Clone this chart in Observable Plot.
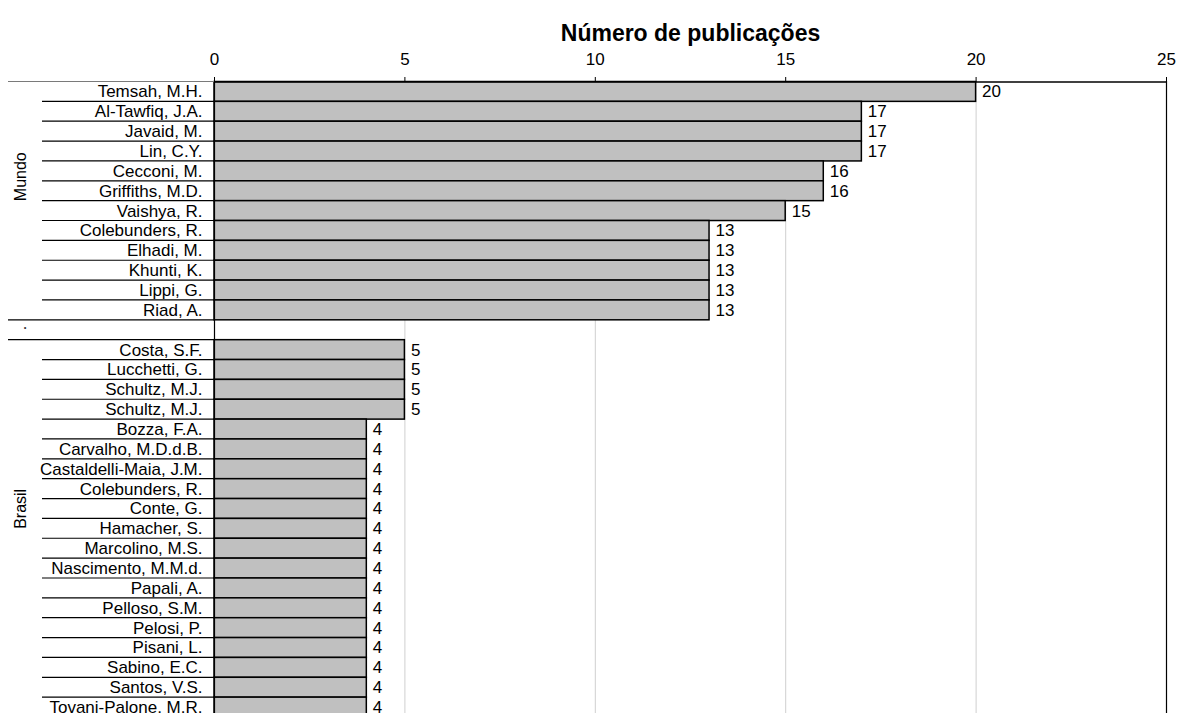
<!DOCTYPE html>
<html><head><meta charset="utf-8">
<script src="https://cdn.jsdelivr.net/npm/d3@7"></script>
<script src="https://cdn.jsdelivr.net/npm/@observablehq/plot@0.6"></script>
<style>body{margin:0;background:#fff}</style>
</head><body><div id="chart"></div>
<script>
const groupNames = ["Mundo", ".", "Brasil"];
const mundoAuthors = ["Temsah, M.H.", "Al-Tawfiq, J.A.", "Javaid, M.", "Lin, C.Y.", "Cecconi, M.", "Griffiths, M.D.", "Vaishya, R.", "Colebunders, R.", "Elhadi, M.", "Khunti, K.", "Lippi, G.", "Riad, A."];
const mundoCounts = [20, 17, 17, 17, 16, 16, 15, 13, 13, 13, 13, 13];
const spacerAuthors = [""];
const spacerCounts = [null];
const brasilAuthors = ["Costa, S.F.", "Lucchetti, G.", "Schultz, M.J.", "Schultz, M.J.", "Bozza, F.A.", "Carvalho, M.D.d.B.", "Castaldelli-Maia, J.M.", "Colebunders, R.", "Conte, G.", "Hamacher, S.", "Marcolino, M.S.", "Nascimento, M.M.d.", "Papali, A.", "Pelloso, S.M.", "Pelosi, P.", "Pisani, L.", "Sabino, E.C.", "Santos, V.S.", "Tovani-Palone, M.R."];
const brasilCounts = [5, 5, 5, 5, 4, 4, 4, 4, 4, 4, 4, 4, 4, 4, 4, 4, 4, 4, 4];
const xTicks = [0, 5, 10, 15, 20, 25];
const xTitle = "Número de publicações";

const groupSeries = [[mundoAuthors, mundoCounts], [spacerAuthors, spacerCounts], [brasilAuthors, brasilCounts]];
const rows = [];
const groups = [];
groupSeries.forEach(([authors, counts], g) => {
  const start = rows.length;
  authors.forEach((a, k) => rows.push({group: groupNames[g], author: a, count: counts[k], i: rows.length}));
  groups.push({name: groupNames[g], start, end: rows.length});
});
const nRows = rows.length;
const innerBounds = groups.flatMap(g => d3.range(g.start + 1, g.end));
const groupBounds = groups.map(g => g.start).concat([nRows]);

const plot = Plot.plot({
  width: 1178, height: 713,
  marginTop: 81, marginRight: 12, marginBottom: 0, marginLeft: 214,
  style: {fontFamily: "'Liberation Sans', Arial, sans-serif", fontSize: "17px", color: "#000", background: "#fff"},
  x: {domain: [0, 25], axis: null},
  y: {domain: [0, nRows], range: [81.5, 717], axis: null},
  marks: [
    Plot.gridX(xTicks.filter(t => t > 0 && t < 25), {stroke: "#cfcfcf", strokeOpacity: 1}),
    Plot.rect(rows.filter(d => d.count != null), {x1: 0, x2: "count", y1: "i", y2: d => d.i + 1, fill: "#c0c0c0", stroke: "#000", strokeWidth: 1.5}),
    Plot.ruleX([0, 25], {stroke: "#000", strokeWidth: 1.2}),
    Plot.ruleY([0], {stroke: "#000", strokeWidth: 1.5}),
    Plot.axisX(xTicks, {anchor: "top", tickSize: 5, tickPadding: 12, label: null, fontSize: 17}),
    Plot.text(rows.filter(d => d.count != null), {x: "count", y: d => d.i + 0.5, text: d => String(d.count), dx: 6, textAnchor: "start"}),
    Plot.text(rows, {frameAnchor: "left", y: d => d.i + 0.5, text: "author", textAnchor: "end", dx: -12}),
    Plot.text(groups, {frameAnchor: "left", y: d => (d.start + d.end) / 2, text: "name", rotate: -90, dx: -194, fontSize: 16}),
    Plot.text([xTitle], {frameAnchor: "top", text: d => d, dy: -57, fontWeight: "bold", fontSize: 23})
  ]
});

const ys = plot.scale("y");
const svg = d3.select(plot);
const g = svg.append("g").attr("fill", "none").attr("stroke-width", 1.2);
g.selectAll("line.inner").data(innerBounds).join("line").attr("class", "inner")
  .attr("stroke", "#000")
  .attr("x1", 42).attr("x2", 214)
  .attr("y1", d => ys.apply(d)).attr("y2", d => ys.apply(d));
g.selectAll("line.grp").data(groupBounds).join("line").attr("class", "grp")
  .attr("stroke", (d, i) => i === 0 ? "#7a7a7a" : "#000")
  .attr("x1", 8).attr("x2", 214)
  .attr("y1", d => ys.apply(d)).attr("y2", d => ys.apply(d));

document.getElementById("chart").appendChild(plot);
</script>
</body></html>
